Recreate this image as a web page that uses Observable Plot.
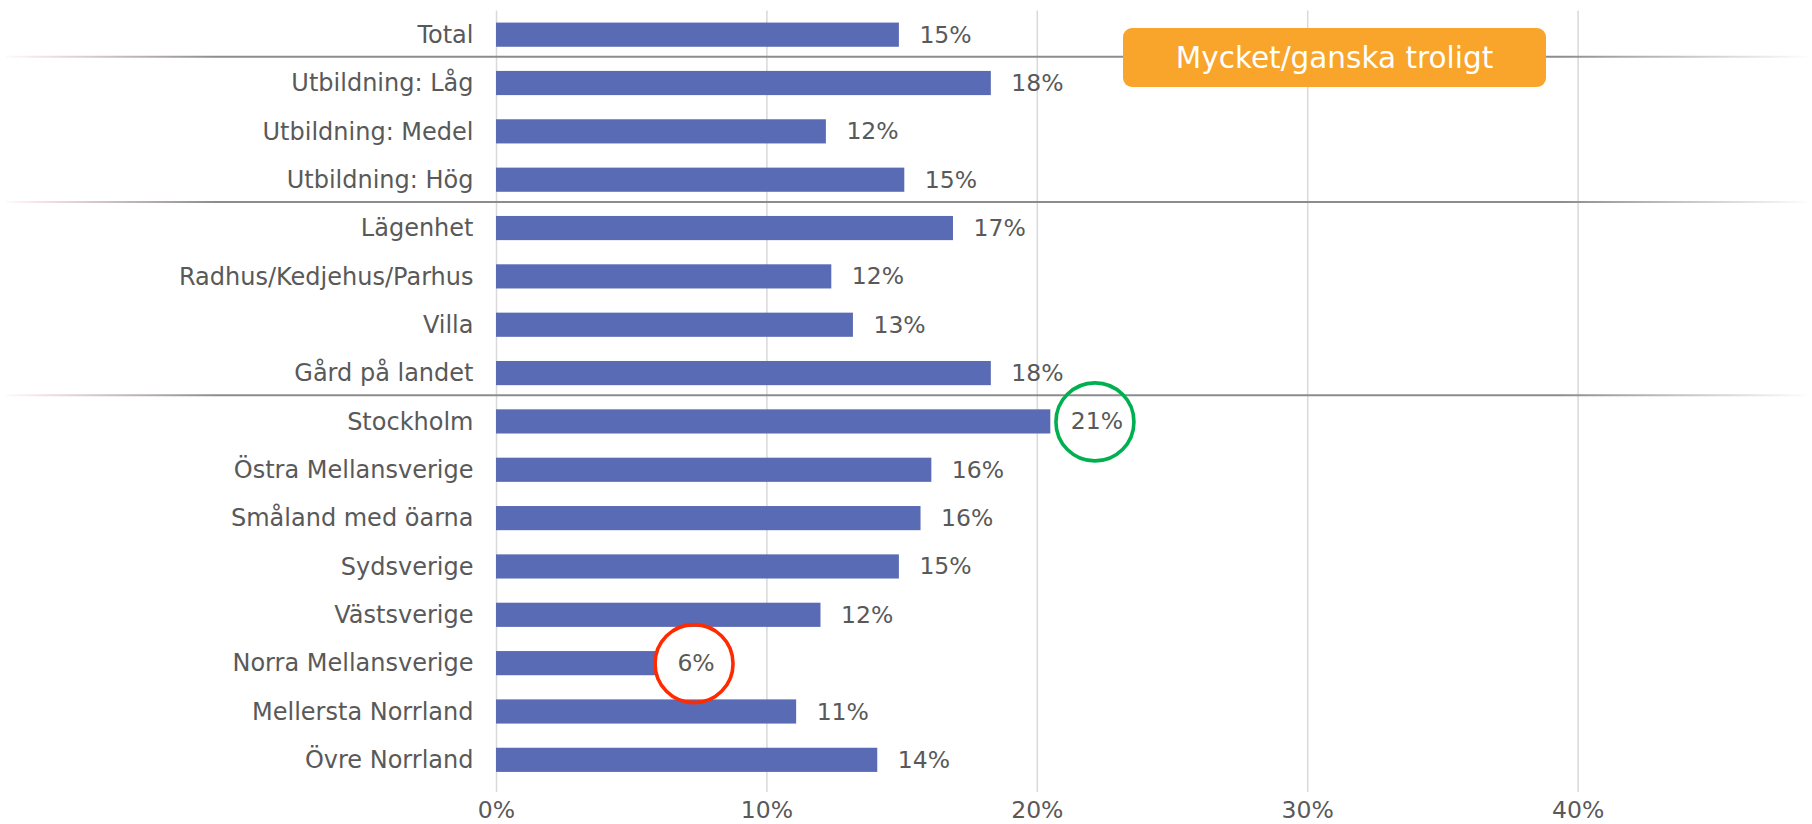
<!DOCTYPE html>
<html><head><meta charset="utf-8">
<script src="https://cdn.jsdelivr.net/npm/d3@7"></script>
<script src="https://cdn.jsdelivr.net/npm/@observablehq/plot@0.6"></script>
<style>
html,body{margin:0;padding:0;background:#fff;overflow:hidden;}
#wrap{position:relative;width:1812px;height:824px;}
#badge{position:absolute;left:1123px;top:28px;width:423px;height:59px;background:#F9A42A;border-radius:9px;color:#fff;font:29.5px "DejaVu Sans",sans-serif;display:flex;align-items:center;justify-content:center;}
</style></head><body><div id="wrap"></div>
<script>
const categories = ["Total","Utbildning: Låg","Utbildning: Medel","Utbildning: Hög","Lägenhet","Radhus/Kedjehus/Parhus","Villa","Gård på landet","Stockholm","Östra Mellansverige","Småland med öarna","Sydsverige","Västsverige","Norra Mellansverige","Mellersta Norrland","Övre Norrland"];
const values = [0.149,0.183,0.122,0.151,0.169,0.124,0.132,0.183,0.205,0.161,0.157,0.149,0.120,0.0595,0.111,0.141];
const valueLabels = ["15%","18%","12%","15%","17%","12%","13%","18%","21%","16%","16%","15%","12%","6%","11%","14%"];
const groupEnds = ["Total","Utbildning: Hög","Gård på landet"];
const highlightCats = ["Stockholm","Norra Mellansverige"];
const highlightColors = ["#00B050","#FF2A00"];
const xTicks = [0,0.1,0.2,0.3,0.4];
const badgeText = "Mycket/ganska troligt";

const W = 1812, H = 824, ML = 496, MR = 0, MT = 10.5, MB = 40;
const FS = 23.5, FSY = 24;
const textColor = "#595959";
const data = categories.map((c,i)=>({category:c, value:values[i], label:valueLabels[i]}));
const step = (H - MT - MB) / categories.length;

const ctx = document.createElement("canvas").getContext("2d");
ctx.font = FS + "px 'DejaVu Sans'";

const highlightMarks = highlightCats.map((c,k)=>{
  const d = data.find(e=>e.category===c);
  const w = ctx.measureText(d.label).width;
  return Plot.dot([d], {x:"value", y:"category", r:39, fill:"none", stroke:highlightColors[k], strokeWidth:3.6, dx: 20 + w/2 - 2});
});

const plot = Plot.plot({
  width: W, height: H,
  marginLeft: ML, marginRight: MR, marginTop: MT, marginBottom: MB,
  style: {fontFamily:"'DejaVu Sans', sans-serif", fontSize: FS + "px", color: textColor, background:"#fff"},
  x: {domain:[0,(W-ML-MR)/2704]},
  y: {domain: categories, paddingInner:0.5, paddingOuter:0.25, round:false},
  marks: [
    Plot.ruleX(xTicks, {stroke:"#d9d9d9", strokeWidth:1.5, insetBottom:-8}),
    Plot.ruleY(groupEnds, {y:d=>d, dy: step/2 - 2.5, stroke:"url(#sepGrad)", strokeWidth:2, insetLeft:-(ML-6)}),
    Plot.barX(data, {x:"value", y:"category", fill:"#5A6BB5"}),
    Plot.text(data, {x:"value", y:"category", text:"label", dx:20, textAnchor:"start", fill:textColor, fontSize:FS}),
    ...highlightMarks,
    Plot.axisY({tickSize:0, tickPadding:23, label:null, fontSize:FSY}),
    Plot.axisX({ticks:xTicks, tickFormat:d3.format(".0%"), tickSize:0, tickPadding:17, label:null, fontSize:FS})
  ]
});

const svgNS = "http://www.w3.org/2000/svg";
const defs = document.createElementNS(svgNS,"defs");
defs.innerHTML = `<linearGradient id="sepGrad" gradientUnits="userSpaceOnUse" x1="0" y1="0" x2="${W}" y2="0">
<stop offset="0" stop-color="#ffffff"/>
<stop offset="0.02" stop-color="#f7e4ea"/>
<stop offset="0.12" stop-color="#8c8c8c"/>
<stop offset="0.86" stop-color="#8c8c8c"/>
<stop offset="1" stop-color="#ffffff"/>
</linearGradient>`;
plot.insertBefore(defs, plot.firstChild);

const wrap = document.getElementById("wrap");
wrap.appendChild(plot);
const badge = document.createElement("div");
badge.id = "badge";
badge.textContent = badgeText;
wrap.appendChild(badge);
</script></body></html>
